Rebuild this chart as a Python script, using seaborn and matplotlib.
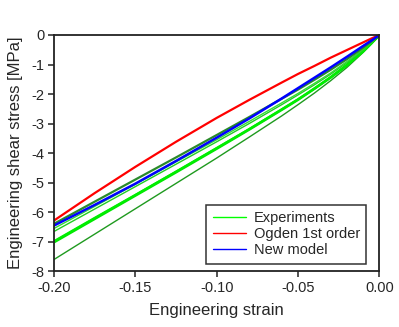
import numpy as np
import pandas as pd
import matplotlib
matplotlib.use("Agg")
import matplotlib.pyplot as plt
from matplotlib.lines import Line2D
import seaborn as sns

# --- Data ---
strain = [0.0, -0.005, -0.01, -0.02, -0.03, -0.04, -0.05, -0.06,
          -0.08, -0.10, -0.125, -0.15, -0.175, -0.20]

exp_a = [0, -0.22, -0.43, -0.82, -1.18, -1.52, -1.85, -2.16, -2.78, -3.39, -4.15, -4.90, -5.65, -6.40]
exp_b = [0, -0.25, -0.48, -0.90, -1.29, -1.64, -1.98, -2.30, -2.93, -3.55, -4.30, -5.06, -5.81, -6.56]
exp_c = [0, -0.26, -0.50, -0.94, -1.33, -1.69, -2.03, -2.36, -3.00, -3.62, -4.38, -5.14, -5.90, -6.66]
exp_d1 = [0, -0.28, -0.55, -1.02, -1.43, -1.82, -2.18, -2.52, -3.19, -3.83, -4.63, -5.42, -6.20, -6.99]
exp_d2 = [0, -0.28, -0.55, -1.02, -1.44, -1.82, -2.19, -2.53, -3.20, -3.85, -4.65, -5.44, -6.23, -7.02]
exp_e = [0, -0.31, -0.59, -1.10, -1.55, -1.97, -2.36, -2.74, -3.46, -4.17, -5.03, -5.89, -6.75, -7.61]

ogden = [0, -0.12, -0.25, -0.51, -0.77, -1.05, -1.32, -1.61, -2.20, -2.81, -3.62, -4.47, -5.36, -6.29]
new_model = [0, -0.19, -0.37, -0.74, -1.10, -1.45, -1.80, -2.15, -2.83, -3.48, -4.27, -5.04, -5.76, -6.46]

x_ticks = [-0.20, -0.15, -0.10, -0.05, 0.00]
y_ticks = [0, -1, -2, -3, -4, -5, -6, -7, -8]

sns.set_theme(style="white")
plt.rcParams["font.family"] = ["Liberation Sans", "DejaVu Sans"]

fig = plt.figure(figsize=(3.99, 3.27), dpi=100)
ax = fig.add_axes([0.135, 0.171, 0.816, 0.722])

experiments = [
    (exp_e, "#1f9a1f", 1.0),
    (exp_d2, "#00e600", 2.0),
    (exp_d1, "#00ee00", 1.6),
    (exp_c, "#22cc22", 1.0),
    (exp_b, "#33dd33", 1.0),
    (exp_a, "#2a8a2a", 1.6),
]
for vals, col, lw in experiments:
    sns.lineplot(x=strain, y=vals, ax=ax, color=col, linewidth=lw)

sns.lineplot(x=strain, y=ogden, ax=ax, color="#ff0000", linewidth=1.6)
sns.lineplot(x=strain, y=new_model, ax=ax, color="#0000ff", linewidth=1.8)

ax.set_xlim(-0.2, 0.0)
ax.set_ylim(-8, 0)
ax.set_xticks(x_ticks)
ax.set_xticklabels([f"{t:.2f}" for t in x_ticks])
ax.set_yticks(y_ticks)
ax.set_yticklabels([str(t) for t in y_ticks])
ax.tick_params(axis="both", direction="out", length=4, width=1.1,
               color="#222222", labelsize=10.5, pad=3, bottom=True, left=True)

for side in ["left", "right", "top", "bottom"]:
    ax.spines[side].set_color("#222222")
    ax.spines[side].set_linewidth(1.3)

ax.set_xlabel("Engineering strain", fontsize=12, labelpad=6)
ax.set_ylabel("Engineering shear stress [MPa]", fontsize=12, labelpad=6)

handles = [
    Line2D([0], [0], color="#00ff00", linewidth=1.0),
    Line2D([0], [0], color="#ff0000", linewidth=1.0),
    Line2D([0], [0], color="#0000ff", linewidth=1.0),
]
leg = ax.legend(handles, ["Experiments", "Ogden 1st order", "New model"],
                loc="lower right", bbox_to_anchor=(0.96, 0.03), borderaxespad=0,
                fontsize=10.5, frameon=True, fancybox=False, handlelength=2.3,
                handletextpad=0.5, labelspacing=0.15, borderpad=0.45)
leg.get_frame().set_edgecolor("#000000")
leg.get_frame().set_linewidth(1.1)

fig.savefig("out.png", dpi=100)
